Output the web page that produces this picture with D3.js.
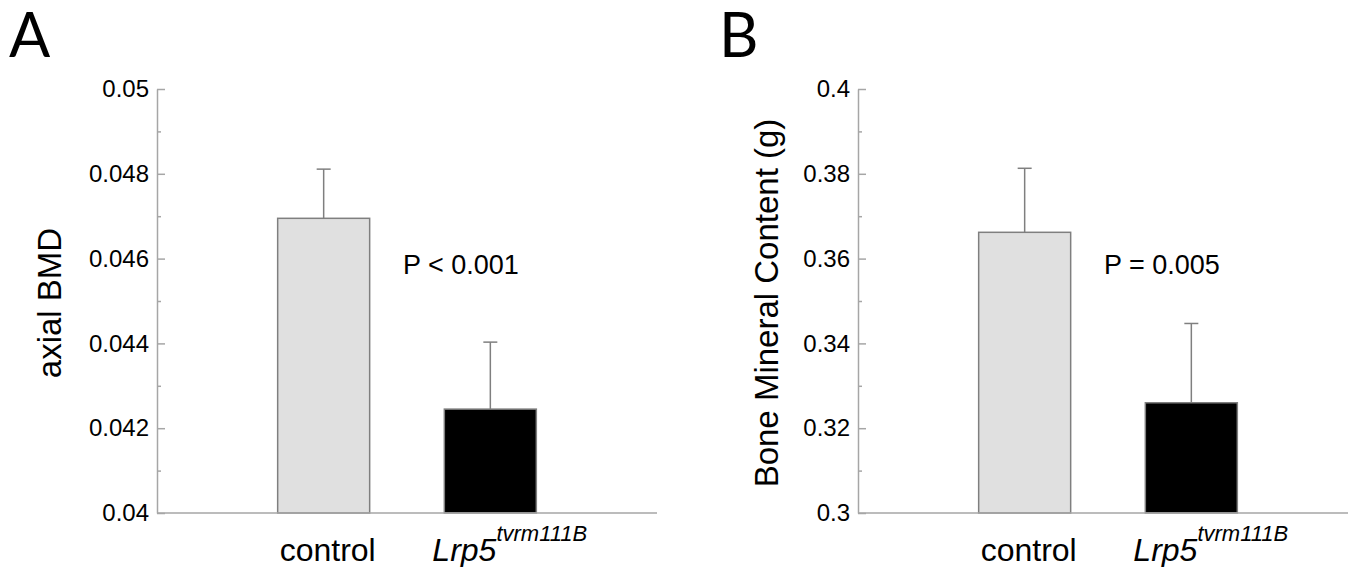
<!DOCTYPE html>
<html>
  <head>
    <meta charset="UTF-8" />
    <style>
      body { margin: 0; background: #fff; }
      svg text { font-family: "Liberation Sans", Arial, Helvetica, sans-serif; }
    </style>
    <script src="https://d3js.org/d3.v7.min.js"></script>
  </head>

  <body>
    <svg id="svg"></svg>

    <script>
      // groups on the x axis
      var groups = ["control", "Lrp5"];

      // panel A: axial BMD (mean and upper error)
      var bmdMean = [0.04695, 0.04245];
      var bmdErr = [0.00116, 0.00158];
      var bmdTicks = [0.04, 0.042, 0.044, 0.046, 0.048, 0.05];
      var bmdMinor = [0.041, 0.043, 0.045, 0.047, 0.049];

      // panel B: bone mineral content (g)
      var bmcMean = [0.3662, 0.326];
      var bmcErr = [0.0151, 0.0187];
      var bmcTicks = [0.3, 0.32, 0.34, 0.36, 0.38, 0.4];
      var bmcMinor = [0.31, 0.33, 0.35, 0.37, 0.39];

      var width = 1348,
        height = 567;

      var axisColor = "#a6a6a6",
        barStroke = "#7f7f7f";
      var barFill = ["#e0e0e0", "#000000"];

      var svg = d3.select("#svg").attr("width", width).attr("height", height);

      var plotW = 500,
        plotTop = 89,
        plotBottom = 513,
        barW = 92;

      function drawPanel(opts) {
        var g = svg.append("g").attr("transform", "translate(" + opts.left + ",0)");

        var y = d3.scaleLinear().domain(opts.domain).range([plotBottom, plotTop]);
        var x = d3.scalePoint().domain(groups).range([plotW / 3, (2 * plotW) / 3]);

        // panel letter
        svg
          .append("text")
          .attr("x", opts.letterX)
          .attr("y", 57)
          .style("font-family", "Lato, 'Open Sans', sans-serif")
          .style("font-size", "61px")
          .text(opts.letter);

        // bars
        g.selectAll("rect.bar")
          .data(opts.mean)
          .enter()
          .append("rect")
          .attr("class", "bar")
          .attr("x", (d, i) => x(groups[i]) - barW / 2)
          .attr("y", (d) => y(d))
          .attr("width", barW)
          .attr("height", (d) => plotBottom - y(d))
          .attr("fill", (d, i) => barFill[i])
          .attr("stroke", barStroke)
          .attr("stroke-width", 1.5);

        // error bars (upper only)
        var err = g.append("g").attr("stroke", barStroke).attr("stroke-width", 1.5);
        opts.mean.forEach((m, i) => {
          var cx = x(groups[i]);
          err.append("line")
            .attr("x1", cx).attr("x2", cx)
            .attr("y1", y(m)).attr("y2", y(m + opts.err[i]));
          err.append("line")
            .attr("x1", cx - 7).attr("x2", cx + 7)
            .attr("y1", y(m + opts.err[i])).attr("y2", y(m + opts.err[i]));
        });

        // y axis, ticks pointing inward
        var yAxis = g.append("g").call(
          d3.axisLeft(y)
            .tickValues(opts.ticks)
            .tickSizeInner(-8)
            .tickSizeOuter(0)
            .tickPadding(8)
            .tickFormat((d) => String(+d.toFixed(3)))
        );
        yAxis.select(".domain").attr("stroke", axisColor).attr("stroke-width", 1.5);
        yAxis.selectAll(".tick line").attr("stroke", axisColor).attr("stroke-width", 1.5);
        yAxis.selectAll(".tick text")
          .attr("fill", "#000")
          .style("font-family", "'Liberation Sans', Arial, sans-serif")
          .style("font-size", "24px");

        var yMinor = g.append("g").call(
          d3.axisLeft(y).tickValues(opts.minor).tickSizeInner(-4).tickSizeOuter(0).tickFormat("")
        );
        yMinor.select(".domain").remove();
        yMinor.selectAll(".tick line").attr("stroke", axisColor).attr("stroke-width", 1.5);

        // x axis line
        g.append("line")
          .attr("x1", 0).attr("x2", plotW)
          .attr("y1", plotBottom).attr("y2", plotBottom)
          .attr("stroke", axisColor)
          .attr("stroke-width", 1.5);

        // category labels
        g.append("text")
          .attr("x", x("control") + 4)
          .attr("y", 561)
          .attr("text-anchor", "middle")
          .style("font-size", "32px")
          .text("control");

        var lab = g.append("text")
          .attr("x", x("Lrp5") - 58)
          .attr("y", 561)
          .style("font-size", "32px")
          .style("font-style", "italic");
        lab.append("tspan").text("Lrp5");
        lab.append("tspan")
          .attr("dy", -20)
          .style("font-size", "22px")
          .text("tvrm111B");

        // p value
        g.append("text")
          .attr("x", 246)
          .attr("y", 274)
          .style("font-size", "27px")
          .text(opts.pText);

        // y axis title
        g.append("text")
          .attr("transform", "translate(" + opts.titleX + "," + 303 + ") rotate(-90)")
          .attr("text-anchor", "middle")
          .style("font-size", "33px")
          .text(opts.title);
      }

      drawPanel({
        left: 157,
        letter: "A",
        letterX: 9,
        domain: [0.04, 0.05],
        mean: bmdMean,
        err: bmdErr,
        ticks: bmdTicks,
        minor: bmdMinor,
        pText: "P < 0.001",
        title: "axial BMD",
        titleX: -96
      });

      drawPanel({
        left: 858,
        letter: "B",
        letterX: 719,
        domain: [0.3, 0.4],
        mean: bmcMean,
        err: bmcErr,
        ticks: bmcTicks,
        minor: bmcMinor,
        pText: "P = 0.005",
        title: "Bone Mineral Content (g)",
        titleX: -80
      });
    </script>
  </body>
</html>
